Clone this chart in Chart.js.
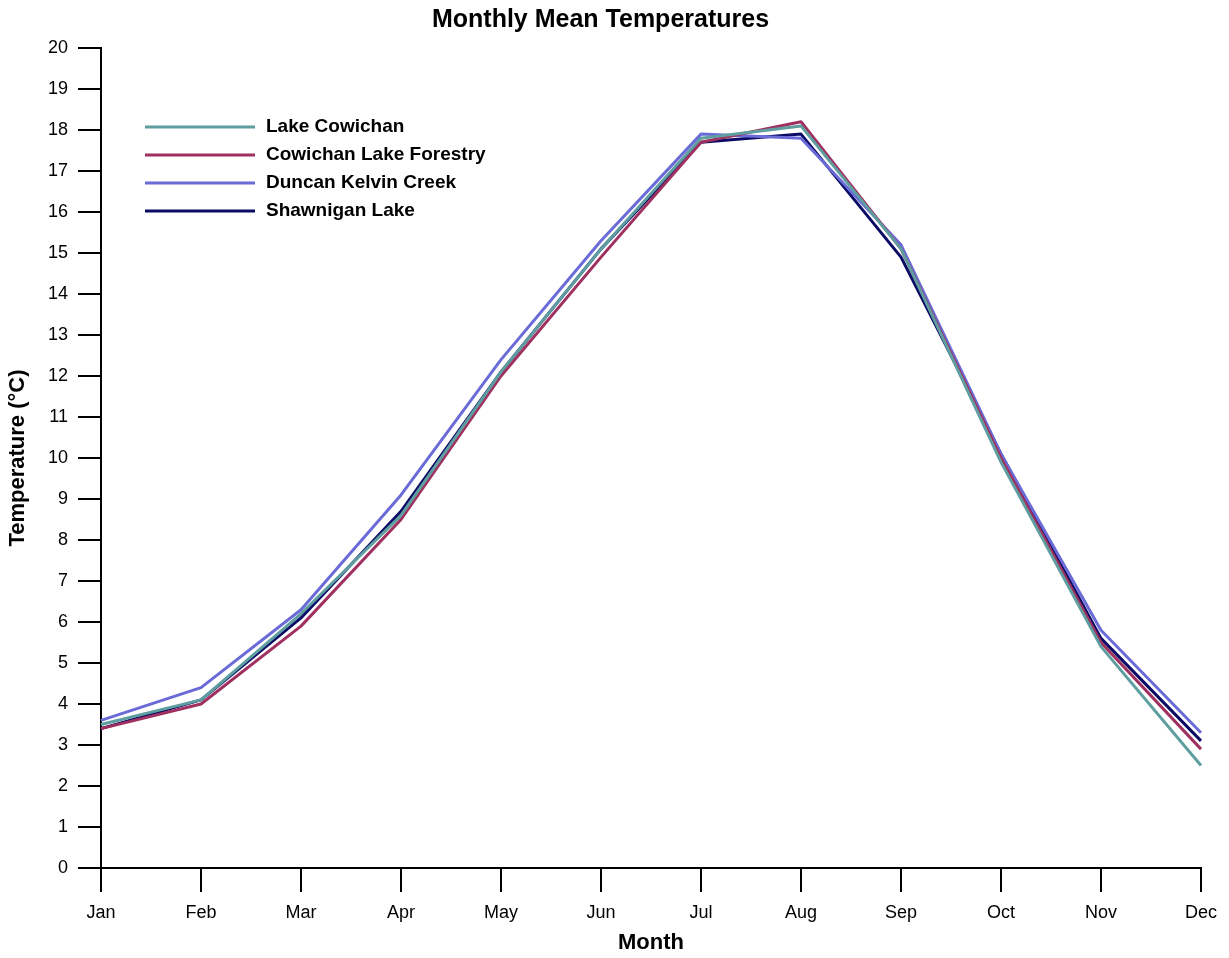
<!DOCTYPE html>
<html>
<head>
<meta charset="utf-8">
<script src="https://cdn.jsdelivr.net/npm/chart.js@4/dist/chart.umd.min.js"></script>
<style>
  html, body { margin: 0; padding: 0; background: #fff; }
  #wrap { width: 1229px; height: 958px; }
</style>
</head>
<body>
<div id="wrap"><canvas id="tempChart" width="1229" height="958"></canvas></div>
<script>
const months = ['Jan', 'Feb', 'Mar', 'Apr', 'May', 'Jun', 'Jul', 'Aug', 'Sep', 'Oct', 'Nov', 'Dec'];
const lakeCowichan = [3.5, 4.1, 6.2, 8.6, 12.1, 15.1, 17.8, 18.1, 15.1, 9.9, 5.4, 2.5];
const cowichanLakeForestry = [3.4, 4.0, 5.9, 8.5, 12.0, 14.9, 17.7, 18.2, 15.1, 10.0, 5.5, 2.9];
const duncanKelvinCreek = [3.6, 4.4, 6.3, 9.1, 12.4, 15.3, 17.9, 17.8, 15.2, 10.1, 5.8, 3.3];
const shawniganLake = [3.4, 4.1, 6.1, 8.7, 12.1, 15.1, 17.7, 17.9, 14.9, 10.1, 5.6, 3.1];
const yTicks = [0, 1, 2, 3, 4, 5, 6, 7, 8, 9, 10, 11, 12, 13, 14, 15, 16, 17, 18, 19, 20];

const FONT = 'Arial, "Liberation Sans", Helvetica, sans-serif';

// legend drawn inside the plot, top left
const insideLegend = {
    id: 'insideLegend',
    afterDatasetsDraw(chart) {
        const ctx = chart.ctx;
        ctx.save();
        ctx.font = 'bold 19px ' + FONT;
        ctx.textBaseline = 'middle';
        chart.data.datasets.forEach((ds, i) => {
            const y = 127 + i * 28;
            ctx.strokeStyle = ds.borderColor;
            ctx.lineWidth = 3;
            ctx.beginPath();
            ctx.moveTo(145, y);
            ctx.lineTo(255, y);
            ctx.stroke();
            ctx.fillStyle = '#000';
            ctx.fillText(ds.label, 266, y);
        });
        ctx.restore();
    }
};

const line = (label, data, color) => ({
    label: label,
    data: data,
    borderColor: color,
    backgroundColor: color,
    borderWidth: 3,
    pointRadius: 0,
    tension: 0,
    borderJoinStyle: 'round',
    fill: false
});

new Chart(document.getElementById('tempChart').getContext('2d'), {
    type: 'line',
    data: {
        labels: months,
        datasets: [
            line('Lake Cowichan', lakeCowichan, '#5f9ea0'),
            line('Cowichan Lake Forestry', cowichanLakeForestry, '#a0305f'),
            line('Duncan Kelvin Creek', duncanKelvinCreek, '#6b6bd8'),
            line('Shawnigan Lake', shawniganLake, '#0b0b66')
        ]
    },
    options: {
        responsive: false,
        animation: false,
        layout: { padding: { left: 0, right: 28, top: 0, bottom: 0 } },
        plugins: {
            legend: { display: false },
            tooltip: { enabled: false },
            title: {
                display: true,
                text: 'Monthly Mean Temperatures',
                color: '#000',
                font: { family: FONT, size: 25, weight: 'bold' },
                padding: { top: 5, bottom: 13 }
            }
        },
        scales: {
            x: {
                offset: false,
                grid: { display: true, drawOnChartArea: false, drawTicks: true, tickLength: 24, color: '#000', lineWidth: 2 },
                border: { display: true, color: '#000', width: 2 },
                ticks: { color: '#000', font: { family: FONT, size: 18 }, padding: 10, maxRotation: 0, autoSkip: false },
                title: { display: true, text: 'Month', color: '#000', font: { family: FONT, size: 22, weight: 'bold' }, padding: { top: 4, bottom: 2 } },
                afterFit(scale) { scale.height = 90; }
            },
            y: {
                min: 0,
                max: 20,
                afterBuildTicks(scale) { scale.ticks = yTicks.map(v => ({ value: v })); },
                grid: { display: true, drawOnChartArea: false, drawTicks: true, tickLength: 23, color: '#000', lineWidth: 2 },
                border: { display: true, color: '#000', width: 2 },
                ticks: { color: '#000', font: { family: FONT, size: 18 }, padding: 10 },
                title: { display: true, text: 'Temperature (°C)', color: '#000', font: { family: FONT, size: 22, weight: 'bold' }, padding: { top: 5, bottom: 6 } },
                afterFit(scale) { scale.width = 101; }
            }
        }
    },
    plugins: [insideLegend]
});
</script>
</body>
</html>
